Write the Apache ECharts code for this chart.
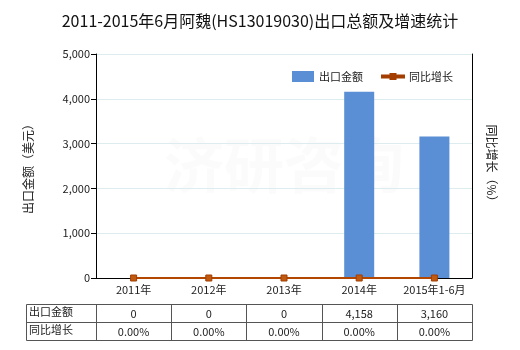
<!DOCTYPE html>
<html><head><meta charset="utf-8">
<script src="https://cdn.jsdelivr.net/npm/echarts@6/dist/echarts.min.js"></script>
<style>html,body{margin:0;padding:0;background:#fff}#c{width:520px;height:350px}</style>
</head><body><div id="c"></div>
<script>
var categories = ['2011年','2012年','2013年','2014年','2015年1-6月'];
var exportValues = [0, 0, 0, 4158, 3160];
var growthValues = [0, 0, 0, 0, 0];
var exportLabels = ['0','0','0','4,158','3,160'];
var growthLabels = ['0.00%','0.00%','0.00%','0.00%','0.00%'];
var rowNames = ['出口金额','同比增长'];

var FONT = '"Noto Sans CJK SC", sans-serif';
var chart = echarts.init(document.getElementById('c'));

var gl = 96, gr = 472, tTop = 304, tMid = 322, tBot = 340, tLeft = 26;
var colW = (gr - gl) / categories.length;
var g = [];
var lineStyle = {stroke:'#555', lineWidth:1};
function ln(x1,y1,x2,y2){ g.push({type:'line', shape:{x1:x1,y1:y1,x2:x2,y2:y2}, style:lineStyle, silent:true}); }
ln(tLeft+0.5,tTop+0.5,gr+0.5,tTop+0.5);
ln(tLeft+0.5,tMid+0.5,gr+0.5,tMid+0.5);
ln(tLeft+0.5,tBot+0.5,gr+0.5,tBot+0.5);
ln(tLeft+0.5,tTop+0.5,tLeft+0.5,tBot+0.5);
for (var i=0;i<=categories.length;i++){ var x=Math.round(gl+i*colW)+0.5; ln(x,tTop+0.5,x,tBot+0.5); }
[exportLabels, growthLabels].forEach(function(row, r){
  var yc = r===0 ? (tTop+tMid)/2+1 : (tMid+tBot)/2+1;
  g.push({type:'text', left:tLeft+3, top:yc-8, style:{text:rowNames[r], font:'11px '+FONT, fill:'#222'}, silent:true});
  row.forEach(function(t, k){
    g.push({type:'text', x:gl+colW*(k+0.5), y:yc, style:{text:t, font:'11px '+FONT, fill:'#222', align:'center', verticalAlign:'middle'}, silent:true});
  });
});
g.push({type:'text', x:(gl+gr)/2, y:165, style:{text:'济研咨询', font:'bold 60px '+FONT, fill:'rgba(200,200,200,0.08)', align:'center', verticalAlign:'middle'}, silent:true, z:-1});

chart.setOption({
  animation:false,
  backgroundColor:'#fff',
  title:{text:'2011-2015年6月阿魏(HS13019030)出口总额及增速统计', left:'center', top:8,
    textStyle:{fontSize:16, fontWeight:'normal', color:'#111', fontFamily:FONT}},
  legend:{top:66, left:287, itemWidth:22, itemHeight:11, itemGap:18,
    textStyle:{fontSize:11, color:'#222', fontFamily:FONT},
    data:[{name:'出口金额', icon:'rect'},
          {name:'同比增长', icon:'path://M0,4.5L22,4.5L22,6.5L0,6.5Z M8.5,3L13.5,3L13.5,8L8.5,8Z'}]},
  grid:{left:gl, right:520-gr, top:54, bottom:350-278},
  xAxis:{type:'category', data:categories,
    axisLine:{lineStyle:{color:'#000'}}, axisTick:{show:false},
    axisLabel:{fontSize:11, color:'#222', fontFamily:FONT, margin:6, interval:0}},
  yAxis:[{type:'value', min:0, max:5000, interval:1000, name:'出口金额（美元）',
    nameLocation:'middle', nameGap:62, nameRotate:90,
    nameTextStyle:{fontSize:12, color:'#222', fontFamily:FONT},
    axisLine:{show:true, lineStyle:{color:'#000'}}, axisTick:{show:true, length:5, lineStyle:{color:'#000'}},
    axisLabel:{fontSize:11, color:'#222', fontFamily:FONT, margin:6,
      formatter:function(v){return v.toLocaleString('en-US');}},
    splitLine:{lineStyle:{color:'#dcecef'}}},
   {type:'value', min:0, max:100, name:'同比增长（%）', nameLocation:'middle', nameGap:14, nameRotate:-90,
    nameTextStyle:{fontSize:12, color:'#222', fontFamily:FONT},
    axisLine:{show:true, lineStyle:{color:'#000'}}, axisTick:{show:false}, axisLabel:{show:false},
    splitLine:{show:false}}],
  series:[
    {name:'出口金额', type:'bar', data:exportValues, barWidth:30, itemStyle:{color:'#5a8ed5'}},
    {name:'同比增长', type:'line', yAxisIndex:1, data:growthValues, symbol:'rect', symbolSize:6,
      lineStyle:{color:'#b34700', width:2}, itemStyle:{color:'#c05a10', borderColor:'#a33d00', borderWidth:1}}
  ],
  graphic:g
});
</script></body></html>
